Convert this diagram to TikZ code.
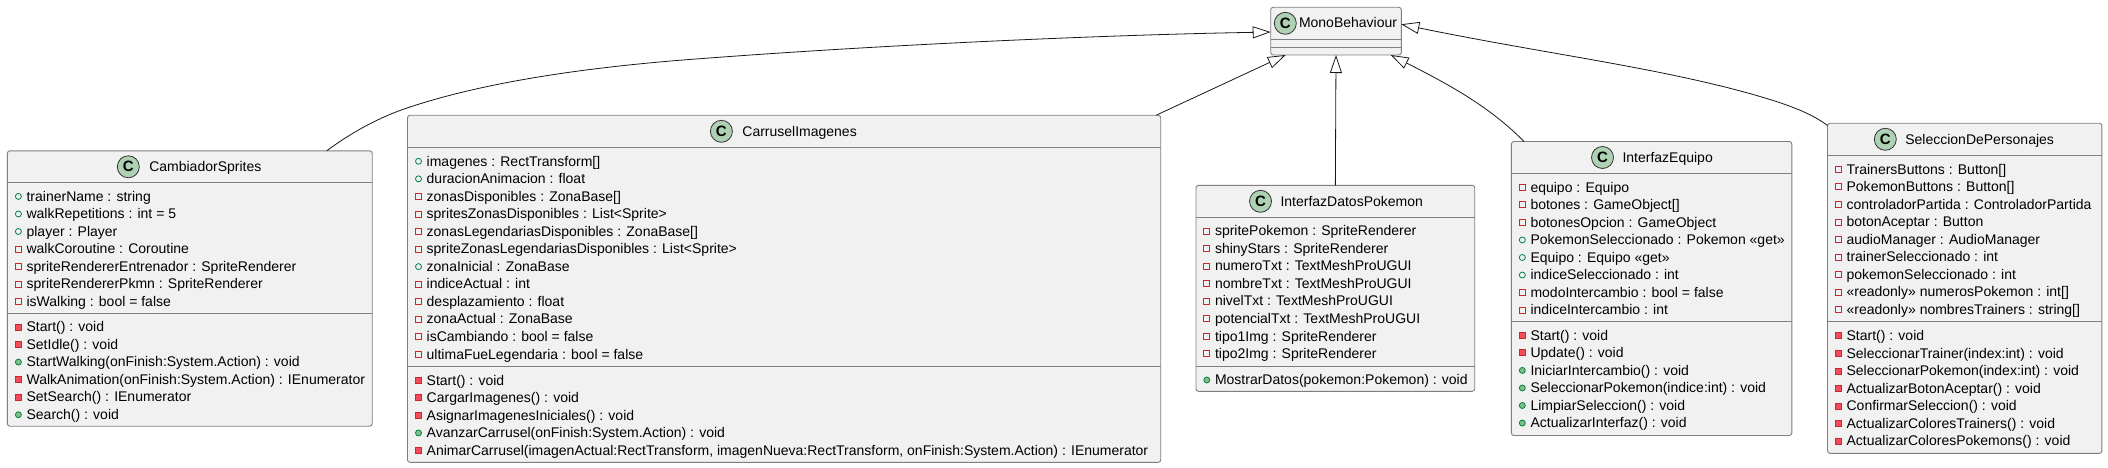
\documentclass[tikz,border=0pt]{standalone}
\usepackage{fontspec}
\setmainfont{Liberation Sans}
\usetikzlibrary{positioning}
\usetikzlibrary{arrows.meta}
\definecolor{classfill}{HTML}{F1F1F1}
\definecolor{classline}{HTML}{7F7F7F}
\definecolor{iconline}{HTML}{333333}
\definecolor{classicon}{HTML}{ADD1B2}
\definecolor{arrowline}{HTML}{181818}
\definecolor{publine}{HTML}{038048}
\definecolor{pubfill}{HTML}{84BE84}
\definecolor{privline}{HTML}{C82930}
\definecolor{privfill}{HTML}{F24D5C}
\tikzset{
    class diagram/.style={
            x=1pt,y=-1pt,
            every node/.style={font=\fontsize{14}{16}\selectfont,inner sep=0pt,outer sep=0pt},
            classbox/.style={draw=classline,line width=0.9pt,fill=classfill,rounded corners=2.5pt,anchor=north west},
            compart/.style={draw=classline,line width=0.9pt},
            icon/.style={circle,draw=iconline,line width=0.8pt,fill=classicon,minimum size=22pt,font=\fontsize{15}{16}\selectfont\bfseries},
            member/.style={anchor=west,text height=12.4pt,text depth=3pt},
            pubf/.style={circle,draw=publine,line width=0.8pt,minimum size=6pt},
            pubm/.style={pubf,fill=pubfill},
            privf/.style={rectangle,draw=privline,line width=0.8pt,minimum size=6pt},
            privm/.style={privf,fill=privfill},
            extends/.style={draw=arrowline,line width=0.8pt,-{Triangle[open,length=18pt,width=12pt]}}
        }
    }

% #1 name, #2 x, #3 y, #4 width, #5 height, #6 divider, #7 icon x, #8 title gap, #9 title
\newcommand{\umlclass}[9]{
    \node [classbox, minimum width=#4pt, minimum height=#5pt] (#1) at (#2,#3) {};
    \draw [compart] ([yshift=-32pt]#1.north west) -- ([yshift=-32pt]#1.north east);
    \draw [compart] ([yshift=-#6pt]#1.north west) -- ([yshift=-#6pt]#1.north east);
    \node [icon] (#1-icon) at (#7,#3+16) {C};
    \node [member, right=#8pt of #1-icon] (#1-title) {#9};
}
% #1 prefix, #2 x, #3 first row y, #4 rows
\newcommand{\members}[4]{
    \foreach \vis/\txt [count=\i] in {#4} {
        \node [\vis] (#1-\i) at (#2,{#3+17.55*(\i-1)}) {};
        \node [member, right=5.2pt of #1-\i] (#1-\i-txt) {\txt};
    }
}

\begin{document}
\begin{tikzpicture}[class diagram]
    \useasboundingbox (0,0) rectangle (2108,468);

    \umlclass{mono}{1270.7}{7.3}{130.6}{47.7}{40}{1285.3}{2.7}{MonoBehaviour}

    \umlclass{cambiador}{7.4}{150.8}{364.8}{275.4}{162.3}{128.3}{10}{CambiadorSprites}
    \members{cambiadorA}{18.4}{196.4}{
        pubf/trainerName : string,
        pubf/walkRepetitions : int = 5,
        pubf/player : Player,
        privf/walkCoroutine : Coroutine,
        privf/spriteRendererEntrenador : SpriteRenderer,
        privf/spriteRendererPkmn : SpriteRenderer,
        privf/isWalking : bool = false}
    \members{cambiadorM}{18.4}{327}{
        privm/Start() : void,
        privm/SetIdle() : void,
        pubm/StartWalking(onFinish:System.Action) : void,
        privm/WalkAnimation(onFinish:System.Action) : IEnumerator,
        privm/SetSearch() : IEnumerator,
        pubm/Search() : void}

    \umlclass{carrusel}{407.5}{115.3}{753.2}{347}{251}{721.4}{10}{CarruselImagenes}
    \members{carruselA}{418.5}{161.3}{
        pubf/imagenes : RectTransform[],
        pubf/duracionAnimacion : float,
        privf/zonasDisponibles : ZonaBase[],
        privf/spritesZonasDisponibles : List<Sprite>,
        privf/zonasLegendariasDisponibles : ZonaBase[],
        privf/spriteZonasLegendariasDisponibles : List<Sprite>,
        pubf/zonaInicial : ZonaBase,
        privf/indiceActual : int,
        privf/desplazamiento : float,
        privf/zonaActual : ZonaBase,
        privf/isCambiando : bool = false,
        privf/ultimaFueLegendaria : bool = false}
    \members{carruselM}{418.5}{380.3}{
        privm/Start() : void,
        privm/CargarImagenes() : void,
        privm/AsignarImagenesIniciales() : void,
        pubm/AvanzarCarrusel(onFinish:System.Action) : void,
        privm/{AnimarCarrusel(imagenActual:RectTransform, imagenNueva:RectTransform, onFinish:System.Action) : IEnumerator}}

    \umlclass{datos}{1196}{185.3}{278.7}{206}{181}{1260.5}{9}{InterfazDatosPokemon}
    \members{datosA}{1206.8}{231}{
        privf/spritePokemon : SpriteRenderer,
        privf/shinyStars : SpriteRenderer,
        privf/numeroTxt : TextMeshProUGUI,
        privf/nombreTxt : TextMeshProUGUI,
        privf/nivelTxt : TextMeshProUGUI,
        privf/potencialTxt : TextMeshProUGUI,
        privf/tipo1Img : SpriteRenderer,
        privf/tipo2Img : SpriteRenderer}
    \members{datosM}{1206.8}{380}{
        pubm/MostrarDatos(pokemon:Pokemon) : void}

    \umlclass{equipo}{1511.4}{141.5}{280.4}{294}{180.2}{1602.5}{9}{InterfazEquipo}
    \members{equipoA}{1522.3}{187.3}{
        privf/equipo : Equipo,
        privf/botones : GameObject[],
        privf/botonesOpcion : GameObject,
        pubf/PokemonSeleccionado : Pokemon «get»,
        pubf/Equipo : Equipo «get»,
        pubf/indiceSeleccionado : int,
        privf/modoIntercambio : bool = false,
        privf/indiceIntercambio : int}
    \members{equipoM}{1522.3}{335.3}{
        privm/Start() : void,
        privm/Update() : void,
        pubm/IniciarIntercambio() : void,
        pubm/SeleccionarPokemon(indice:int) : void,
        pubm/LimpiarSeleccion() : void,
        pubm/ActualizarInterfaz() : void}

    \umlclass{seleccion}{1827.5}{123.3}{274.4}{330}{198.4}{1885.3}{9}{SeleccionDePersonajes}
    \members{seleccionA}{1838.4}{169.3}{
        privf/TrainersButtons : Button[],
        privf/PokemonButtons : Button[],
        privf/controladorPartida : ControladorPartida,
        privf/botonAceptar : Button,
        privf/audioManager : AudioManager,
        privf/trainerSeleccionado : int,
        privf/pokemonSeleccionado : int,
        privf/«readonly» numerosPokemon : int[],
        privf/«readonly» nombresTrainers : string[]}
    \members{seleccionM}{1838.4}{335.8}{
        privm/Start() : void,
        privm/SeleccionarTrainer(index:int) : void,
        privm/SeleccionarPokemon(index:int) : void,
        privm/ActualizarBotonAceptar() : void,
        privm/ConfirmarSeleccion() : void,
        privm/ActualizarColoresTrainers() : void,
        privm/ActualizarColoresPokemons() : void}

    \draw [extends] ([xshift=-45.5pt]cambiador.north east) .. controls (352,132) and (380,117) .. (407,108)
        .. controls (490,80) and (600,66) .. (700,58.7)
        .. controls (880,45) and (1100,35) .. ([yshift=-0.9pt]mono.west);
    \draw [extends] ([xshift=-4.7pt]carrusel.north east) -- ([xshift=15pt]mono.south west);
    \draw [extends] (datos.north) -- (mono.south);
    \draw [extends] ([xshift=12.6pt]equipo.north west) .. controls (1490,107) and (1450,85) .. ([xshift=-10.6pt]mono.south east);
    \draw [extends] ([yshift=-2.2pt]seleccion.north west) .. controls (1812,114) and (1795,108) .. (1780,102.7)
        .. controls (1680,70) and (1550,55) .. ([yshift=6.9pt]mono.east);
\end{tikzpicture}
\end{document}
